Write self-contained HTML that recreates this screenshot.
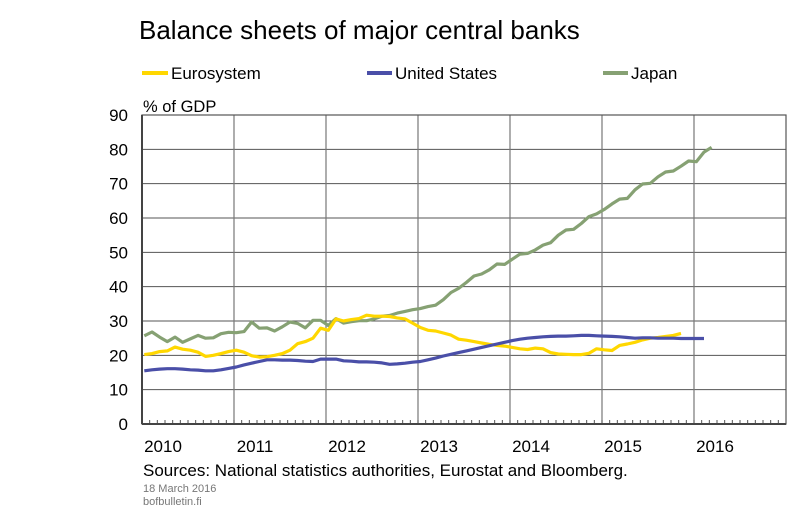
<!DOCTYPE html>
<html><head><meta charset="utf-8"><style>
body{margin:0;background:#fff;}
svg text{font-family:"Liberation Sans",Arial,sans-serif;}
</style></head><body>
<svg id="chart" width="801" height="522" viewBox="0 0 801 522" xmlns="http://www.w3.org/2000/svg">
<text x="139" y="39" font-size="26" fill="#000">Balance sheets of major central banks</text>
<g>
<g><line x1="142" y1="73" x2="168" y2="73" stroke="#FFD700" stroke-width="4"/><text x="171" y="79" font-size="17">Eurosystem</text></g>
<g><line x1="367" y1="73" x2="392" y2="73" stroke="#4A4FA8" stroke-width="4"/><text x="395" y="79" font-size="17">United States</text></g>
<g><line x1="603" y1="73" x2="628" y2="73" stroke="#86A173" stroke-width="4"/><text x="631" y="79" font-size="17">Japan</text></g>
</g>
<text x="143" y="112" font-size="16.5">% of GDP</text>
<g id="grid"></g>
<g id="series"></g>
<g id="axes"></g>
<text x="143" y="476" font-size="17">Sources: National statistics authorities, Eurostat and Bloomberg.</text>
<text x="143" y="492" font-size="11" fill="#777">18 March 2016</text>
<text x="143" y="505" font-size="11" fill="#777">bofbulletin.fi</text>
</svg>
<script>
const yTicks=[0,10,20,30,40,50,60,70,80,90];
const years=[2010,2011,2012,2013,2014,2015,2016];
const euro=[20.2,20.5,21.1,21.3,22.4,21.8,21.5,20.9,19.7,20,20.5,21.1,21.5,20.9,19.9,19.5,19.6,20,20.5,21.5,23.4,24,25,27.9,27.3,30.6,30,30.4,30.7,31.7,31.4,31.4,31.3,30.9,30.6,29.4,28.1,27.3,27.1,26.5,25.9,24.7,24.4,24,23.6,23.2,22.9,22.7,22.3,21.9,21.7,22.1,21.9,20.8,20.4,20.3,20.2,20.2,20.6,21.9,21.6,21.4,22.9,23.3,23.8,24.5,25,25.2,25.5,25.8,26.4];
const us=[15.5,15.8,16,16.1,16.1,16,15.8,15.7,15.5,15.5,15.8,16.2,16.6,17.2,17.7,18.2,18.7,18.7,18.6,18.6,18.5,18.3,18.2,18.9,18.9,18.9,18.4,18.3,18.1,18.1,18,17.8,17.4,17.5,17.7,18,18.2,18.7,19.2,19.8,20.3,20.8,21.3,21.8,22.3,22.8,23.3,23.8,24.3,24.7,25,25.2,25.4,25.5,25.6,25.6,25.7,25.8,25.8,25.7,25.6,25.5,25.4,25.2,25,25.1,25.1,25,25,25,24.9,24.9,24.9,24.9];
const japan=[25.7,26.8,25.3,24,25.3,23.8,24.8,25.8,25,25.1,26.3,26.7,26.6,26.9,29.7,27.9,28,27.1,28.3,29.7,29.3,28,30.2,30.2,28.7,30.7,29.4,29.8,30.1,30.1,30.6,31.4,31.6,32.3,32.8,33.3,33.6,34.2,34.6,36.2,38.3,39.5,41.2,43.1,43.7,44.9,46.6,46.5,48,49.5,49.7,50.7,52.1,52.8,55,56.5,56.7,58.4,60.4,61.2,62.5,64.1,65.5,65.7,68.2,69.9,70.1,72,73.4,73.7,75.1,76.6,76.4,79.2,80.6];
const X0=142,X1=786,Y0=424,Y90=115,M=(X1-X0)/84;
const xm=i=>X0+M*(i+0.3);
const yv=v=>Y0-(Y0-Y90)*v/90;
const NS="http://www.w3.org/2000/svg";
function mk(t,a,p){const e=document.createElementNS(NS,t);for(const k in a)e.setAttribute(k,a[k]);p.appendChild(e);return e;}
const grid=document.getElementById('grid'),axes=document.getElementById('axes'),ser=document.getElementById('series');
yTicks.forEach(v=>{
 if(v>0){const l=mk('line',{x1:X0,x2:X1,y1:yv(v),y2:yv(v),stroke:'#555','stroke-width':1},grid);
 
 }
 const t=mk('text',{x:128,y:yv(v)+6,'font-size':17,'text-anchor':'end'},axes);t.textContent=v;
 
 
});
years.forEach((y,k)=>{
 const x=X0+M*12*k;
 if(k>0){const l=mk('line',{x1:x,x2:x,y1:Y90,y2:Y0,stroke:'#777','stroke-width':1.2},grid);
 
 }
 const t=mk('text',{x:x+21,y:452,'font-size':17,'text-anchor':'middle'},axes);t.textContent=y;
 
 
});
for(let i=1;i<84;i++){const x=X0+M*i;mk('line',{x1:x,x2:x,y1:Y0,y2:Y0-4,stroke:'#555','stroke-width':1},axes);}
const fr=mk('rect',{x:X0,y:Y90,width:X1-X0,height:Y0-Y90,fill:'none',stroke:'#555','stroke-width':1.2},axes);


const xa=mk('line',{x1:X0,x2:X1,y1:Y0,y2:Y0,stroke:'#444','stroke-width':2},axes);


const ya=mk('line',{x1:X0,x2:X0,y1:Y90,y2:Y0,stroke:'#444','stroke-width':2},axes);


function line(d,c,n){const p=mk('polyline',{points:d.map((v,i)=>xm(i).toFixed(1)+','+yv(v).toFixed(1)).join(' '),fill:'none',stroke:c,'stroke-width':3.2,'stroke-linejoin':'round'},ser);
 
 }
line(japan,'#86A173','series-japan');
line(euro,'#FFD700','series-eurosystem');
line(us,'#4A4FA8','series-united-states');
</script>
</body></html>
